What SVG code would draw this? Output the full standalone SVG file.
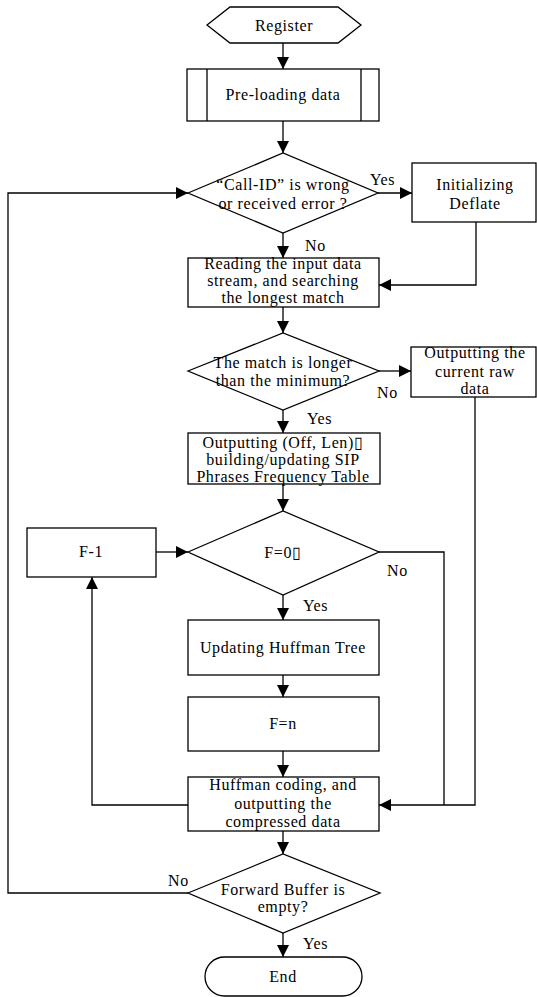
<svg xmlns="http://www.w3.org/2000/svg" width="537" height="997" viewBox="0 0 537 997">
<style>
.s{fill:#fff;stroke:#000;stroke-width:1.3}
.c{fill:none;stroke:#000;stroke-width:1.3}
text{font-family:"Liberation Serif","Times New Roman",serif;font-size:16px;letter-spacing:0.6px;fill:#000}
.m{text-anchor:middle}
</style>
<defs>
<marker id="ah" markerUnits="userSpaceOnUse" markerWidth="12" markerHeight="12" refX="12" refY="6" orient="auto">
<path d="M0,0 L12,6 L0,12 z" fill="#000"/>
</marker>
</defs>
<rect width="537" height="997" fill="#fff"/>
<g id="connectors">
<path class="c" d="M283,43 V69" marker-end="url(#ah)"/>
<path class="c" d="M283,121 V153" marker-end="url(#ah)"/>
<path class="c" d="M378,193 H412" marker-end="url(#ah)"/>
<path class="c" d="M283,233 V258" marker-end="url(#ah)"/>
<path class="c" d="M476,222 V285 H379" marker-end="url(#ah)"/>
<path class="c" d="M283,307 V333" marker-end="url(#ah)"/>
<path class="c" d="M379,371 H411" marker-end="url(#ah)"/>
<path class="c" d="M283,410 V433" marker-end="url(#ah)"/>
<path class="c" d="M475,397 V805 H379" marker-end="url(#ah)"/>
<path class="c" d="M283,484 V511" marker-end="url(#ah)"/>
<path class="c" d="M156,552 H188" marker-end="url(#ah)"/>
<path class="c" d="M379,552 H444 V805"/>
<path class="c" d="M283,595 V620" marker-end="url(#ah)"/>
<path class="c" d="M283,675 V697" marker-end="url(#ah)"/>
<path class="c" d="M283,751 V777" marker-end="url(#ah)"/>
<path class="c" d="M188,805 H92 V577" marker-end="url(#ah)"/>
<path class="c" d="M283,831 V854" marker-end="url(#ah)"/>
<path class="c" d="M188,893 H8 V193 H188" marker-end="url(#ah)"/>
<path class="c" d="M283,933 V957" marker-end="url(#ah)"/>
<text x="370" y="185">Yes</text>
<text x="305" y="251">No</text>
<text x="377" y="398">No</text>
<text x="307" y="424">Yes</text>
<text x="387" y="576">No</text>
<text x="303" y="611">Yes</text>
<text x="168" y="886">No</text>
<text x="303" y="949">Yes</text>
</g>
<g id="register">
<polygon class="s" points="207,25 230,7 338,7 361,25 338,43 230,43"/>
<text class="m" x="284" y="31">Register</text>
</g>
<g id="preload">
<rect class="s" x="187" y="69" width="192" height="52"/>
<path class="c" d="M207,69 V121 M361,69 V121"/>
<text class="m" x="283" y="100">Pre-loading data</text>
</g>
<g id="callid">
<polygon class="s" points="188,193 283,153 378,193 283,233"/>
<text class="m" x="283" y="190">“Call-ID” is wrong</text>
<text class="m" x="283" y="209">or received error ?</text>
</g>
<g id="initdeflate">
<rect class="s" x="412" y="163" width="124" height="59"/>
<text class="m" x="475" y="190">Initializing</text>
<text class="m" x="475" y="209">Deflate</text>
</g>
<g id="reading">
<rect class="s" x="188" y="258" width="191" height="49"/>
<text class="m" x="283" y="269">Reading the input data</text>
<text class="m" x="283" y="286">stream, and searching</text>
<text class="m" x="283" y="303">the longest match</text>
</g>
<g id="matchlonger">
<polygon class="s" points="188,371 283,333 379,371 283,410"/>
<text class="m" x="283" y="368">The match is longer</text>
<text class="m" x="283" y="386">than the minimum?</text>
</g>
<g id="rawdata">
<rect class="s" x="411" y="347" width="125" height="50"/>
<text class="m" x="475" y="358">Outputting the</text>
<text class="m" x="475" y="377">current raw</text>
<text class="m" x="475" y="394">data</text>
</g>
<g id="offlen">
<rect class="s" x="188" y="433" width="192" height="51"/>
<text class="m" x="283" y="448">Outputting (Off, Len)▯</text>
<text class="m" x="283" y="465">building/updating SIP</text>
<text class="m" x="283" y="482">Phrases Frequency Table</text>
</g>
<g id="fzero">
<polygon class="s" points="188,552 283,511 379,552 283,595"/>
<text class="m" x="283" y="558">F=0▯</text>
</g>
<g id="fminus">
<rect class="s" x="27" y="528" width="129" height="49"/>
<text class="m" x="91" y="557">F-1</text>
</g>
<g id="updtree">
<rect class="s" x="188" y="620" width="191" height="55"/>
<text class="m" x="283" y="653">Updating Huffman Tree</text>
</g>
<g id="fn">
<rect class="s" x="188" y="697" width="191" height="54"/>
<text class="m" x="283" y="729">F=n</text>
</g>
<g id="huffman">
<rect class="s" x="188" y="777" width="191" height="54"/>
<text class="m" x="283" y="790">Huffman coding, and</text>
<text class="m" x="283" y="809">outputting the</text>
<text class="m" x="283" y="827">compressed data</text>
</g>
<g id="bufempty">
<polygon class="s" points="188,893 283,854 380,893 283,933"/>
<text class="m" x="283" y="895">Forward Buffer is</text>
<text class="m" x="283" y="912">empty?</text>
</g>
<g id="end">
<rect class="s" x="205" y="957" width="157" height="39" rx="19.5"/>
<text class="m" x="283" y="982">End</text>
</g>
</svg>
